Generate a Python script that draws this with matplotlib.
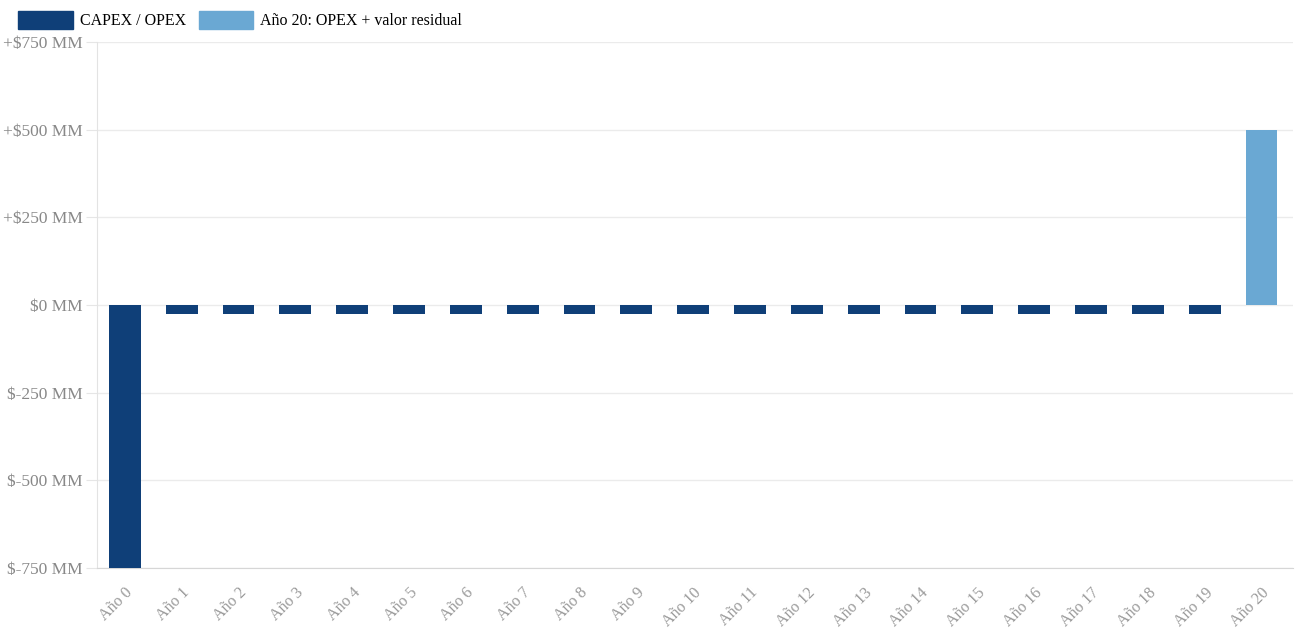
import matplotlib.pyplot as plt
from matplotlib.patches import Patch

# values in millions
years = [f"Año {i}" for i in range(21)]
capex_opex = [-750] + [-25] * 19
year20_value = 500
ticks = [-750, -500, -250, 0, 250, 500, 750]
tick_labels = ["$-750 MM", "$-500 MM", "$-250 MM", "$0 MM", "+$250 MM", "+$500 MM", "+$750 MM"]

dark = "#0f3f78"
light = "#6aa8d3"

plt.rcParams['font.family'] = ['Liberation Serif', 'DejaVu Serif']

fig = plt.figure(figsize=(12.96, 6.31), dpi=100)
ax = fig.add_axes([0.0748, 0.0998, 0.9232, 0.8336])

x = list(range(len(years)))
ax.bar(x[:20], capex_opex, width=0.56, color=dark, zorder=3)
ax.bar(x[20], year20_value, width=0.56, color=light, zorder=3)

ax.set_ylim(-750, 750)
ax.set_xlim(-0.49, 20.56)
ax.set_yticks(ticks)
ax.set_yticklabels(tick_labels, fontsize=12.5, color="#888888")
ax.set_xticks(x)
ax.set_xticklabels(years, rotation=45, ha="right", rotation_mode="anchor",
                   fontsize=11.5, color="#999999")
ax.tick_params(axis="y", length=8, color="#e6e6e6", pad=2)
ax.tick_params(axis="x", length=0, pad=12)
ax.grid(axis="y", color="#ebebeb", linewidth=1, zorder=0)

for side in ["top", "right"]:
    ax.spines[side].set_visible(False)
ax.spines["left"].set_color("#e3e3e3")
ax.spines["bottom"].set_color("#d6d6d6")

handles = [Patch(color=dark, label="CAPEX / OPEX"),
           Patch(color=light, label="Año 20: OPEX + valor residual")]
fig.legend(handles=handles, loc="upper left", bbox_to_anchor=(0.003, 1.006), ncol=2,
           frameon=False, fontsize=11.5, handlelength=3.4, handleheight=1.35,
           handletextpad=0.45, columnspacing=0.8)

fig.savefig("out.png", dpi=100)
